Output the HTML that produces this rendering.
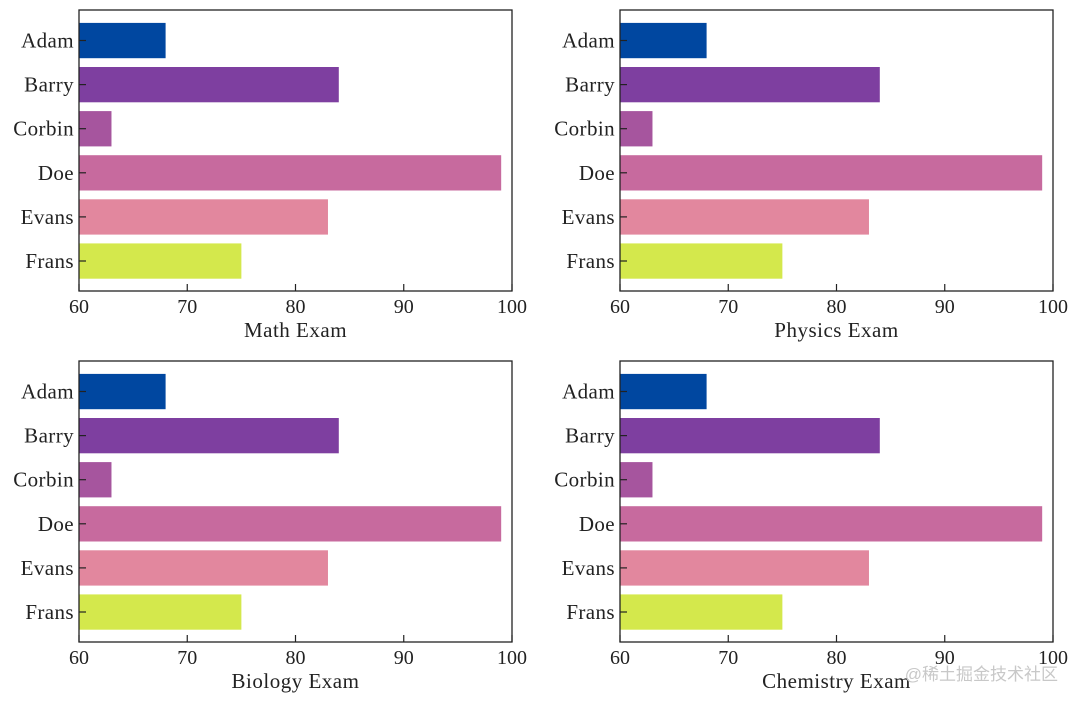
<!DOCTYPE html>
<html><head><meta charset="utf-8"><style>
body{margin:0;background:#fff;width:1080px;height:703px;overflow:hidden}
svg text{font-family:"Liberation Serif","DejaVu Serif",serif;fill:#222}
</style></head><body>
<svg id="chart" width="1080" height="703" viewBox="0 0 1080 703"></svg>
<script>
const names = ["Adam","Barry","Corbin","Doe","Evans","Frans"];
const scores = [68,84,63,99,83,75];
const colors = ["#0047a0","#7e3fa0","#a6559e","#c76a9e","#e2879e","#d4e84c"];
const xTicks = [60,70,80,90,100];
const panelTitles = ["Math Exam","Physics Exam","Biology Exam","Chemistry Exam"];
const panels = [[79,10],[620,10],[79,361],[620,361]];
const W=433,H=281,xMin=60,xMax=100;
const svg=document.getElementById('chart');
const NS='http://www.w3.org/2000/svg';
function mk(t,a,p){const e=document.createElementNS(NS,t);for(const k in a)e.setAttribute(k,a[k]);p.appendChild(e);return e;}
panels.forEach((pp,pi)=>{
  const [ox,oy]=pp;
  const g=mk('g',{},svg);
  
  
  const xs=v=>ox+(v-xMin)/(xMax-xMin)*W;
  const step=44.1, c0=oy+30.5;
  const ys=i=>c0+i*step;
  names.forEach((n,i)=>{
    const r=mk('rect',{x:xs(xMin),y:ys(i)-17.6,width:xs(scores[i])-xs(xMin),height:35.3,fill:colors[i]},g);
    
    
    const l=mk('line',{x1:ox,x2:ox+7,y1:ys(i),y2:ys(i),stroke:'#222','stroke-width':1.2},g);
    
    
    const t=mk('text',{x:ox-5,y:ys(i)+7,'text-anchor':'end','font-size':21,'letter-spacing':0.4},g);
    t.textContent=n;
    
    
  });
  const fr=mk('rect',{x:ox,y:oy,width:W,height:H,fill:'none',stroke:'#222','stroke-width':1.3},g);
  
  
  xTicks.forEach(v=>{
    const l=mk('line',{x1:xs(v),x2:xs(v),y1:oy+H,y2:oy+H-7,stroke:'#222','stroke-width':1.2},g);
    
    
    const t=mk('text',{x:xs(v),y:oy+H+22,'text-anchor':'middle','font-size':20},g);
    t.textContent=v;
    
    
  });
  const xl=mk('text',{x:ox+W/2,y:oy+H+46,'text-anchor':'middle','font-size':21,'letter-spacing':0.5},g);
  xl.textContent=panelTitles[pi];
  
  
});
const wm=mk('text',{x:1058,y:680,'text-anchor':'end','font-size':17,style:'font-family:"Liberation Sans","Noto Sans CJK SC",sans-serif;fill:#c8c8c8'},svg);
wm.textContent='@稀土掘金技术社区';


</script>
</body></html>
